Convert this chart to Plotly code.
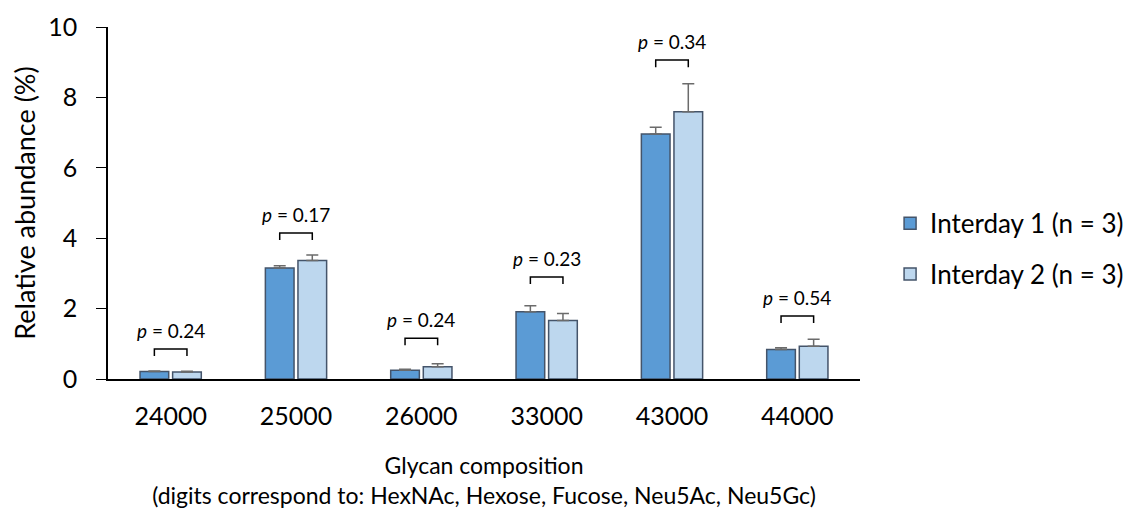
import plotly.graph_objects as go

categories = ["24000", "25000", "26000", "33000", "43000", "44000"]
interday1 = [0.21, 3.15, 0.25, 1.91, 6.96, 0.84]
interday1_err = [0.02, 0.07, 0.03, 0.17, 0.19, 0.05]
interday2 = [0.20, 3.37, 0.35, 1.66, 7.59, 0.93]
interday2_err = [0.02, 0.15, 0.08, 0.20, 0.80, 0.20]
p_values = ["0.24", "0.17", "0.24", "0.23", "0.34", "0.54"]
bracket_y = [0.85, 4.15, 1.16, 2.90, 9.06, 1.79]

FONT = "Lato, Carlito, Calibri, sans-serif"
BORDER = "#44546A"
ERR = "#6b6b6b"

fig = go.Figure()
fig.add_trace(go.Bar(
    x=categories, y=interday1, name="Interday 1 (n = 3)",
    marker=dict(color="#5B9BD5", line=dict(color=BORDER, width=1.5)),
    error_y=dict(type="data", array=interday1_err, arrayminus=[0]*6, symmetric=False,
                 color=ERR, thickness=1.5, width=6),
    legendgroup="a",
))
fig.add_trace(go.Bar(
    x=categories, y=interday2, name="Interday 2 (n = 3)",
    marker=dict(color="#BDD7EE", line=dict(color=BORDER, width=1.5)),
    error_y=dict(type="data", array=interday2_err, arrayminus=[0]*6, symmetric=False,
                 color=ERR, thickness=1.5, width=6),
    legendgroup="b",
))

bargap = 0.48
groupgap = 0.12
half = (1 - bargap) / 4  # offset of each bar center from category center
tick_h = 0.2
for i, (p, by) in enumerate(zip(p_values, bracket_y)):
    x0, x1 = i - half, i + half
    fig.add_shape(type="path",
                  path=f"M {x0},{by - tick_h} L {x0},{by} L {x1},{by} L {x1},{by - tick_h}",
                  xref="x", yref="y", line=dict(color="black", width=1.5))
    fig.add_annotation(x=i, y=by, xref="x", yref="y", yanchor="bottom", yshift=5,
                       text=f"<i>p</i> = {p}", showarrow=False,
                       font=dict(family=FONT, size=19, color="black"))

fig.update_layout(
    width=1133, height=514,
    margin=dict(l=100, r=281, t=19, b=143),
    plot_bgcolor="white", paper_bgcolor="white",
    barmode="group", bargap=bargap, bargroupgap=groupgap,
    font=dict(family=FONT, size=24, color="black"),
    legend=dict(x=1.04, y=0.37, yanchor="middle", xanchor="left",
                font=dict(family=FONT, size=26), tracegroupgap=14,
                itemwidth=30),
    xaxis=dict(
        automargin=False,
        showline=True, linecolor="black", linewidth=2, ticks="",
        tickfont=dict(size=25), ticklabelstandoff=14,
        title=dict(text="Glycan composition<br>(digits correspond to: HexNAc, Hexose, Fucose, Neu5Ac, Neu5Gc)",
                   font=dict(size=23), standoff=29),
    ),
    yaxis=dict(
        automargin=False,
        range=[0, 10], dtick=2, showline=True, linecolor="black", linewidth=1.5,
        ticks="outside", ticklen=10, tickcolor="black", showgrid=False, zeroline=False,
        tickfont=dict(size=25), ticklabelstandoff=14,
        title=dict(text="Relative abundance (%)", font=dict(size=27), standoff=8),
    ),
)

fig.write_html("out.html")
